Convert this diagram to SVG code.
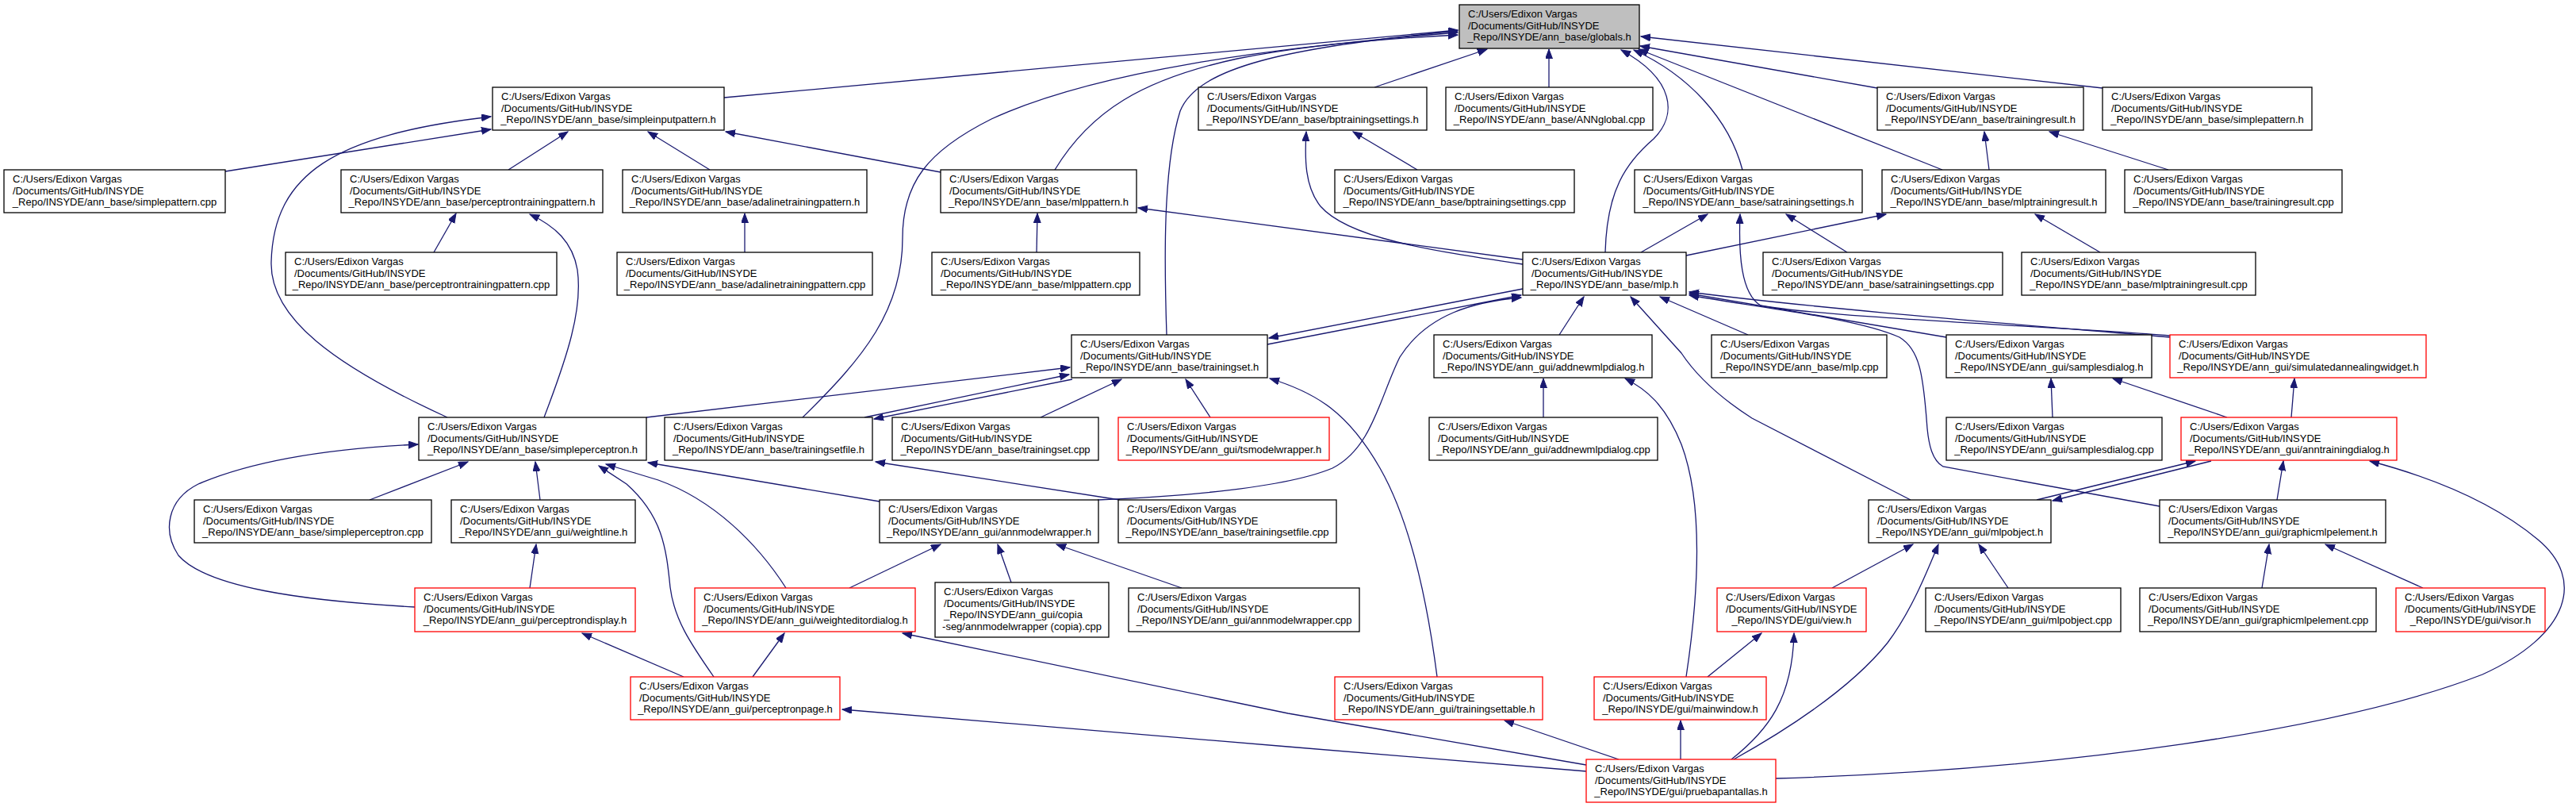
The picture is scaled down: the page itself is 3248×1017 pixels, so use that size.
<svg xmlns="http://www.w3.org/2000/svg" width="3248" height="1017" viewBox="0 0 3248 1017">
<style>
.n rect{fill:#ffffff;stroke:#000000;stroke-width:1.3}
.r rect{fill:#ffffff;stroke:#ff0000;stroke-width:1.3}
.g rect{fill:#bfbfbf;stroke:#000000;stroke-width:1.3}
text{font-family:"Liberation Sans",Arial,sans-serif;font-size:13px;fill:#000000}
.c{text-anchor:middle}
#edges path{fill:none;stroke:#191970;stroke-width:1.3;marker-end:url(#a)}
</style>
<defs>
<marker id="a" markerWidth="14" markerHeight="10" refX="12" refY="4.5" orient="auto" markerUnits="userSpaceOnUse"><path d="M0,0 L12,4.5 L0,9 z" fill="#191970" stroke="#191970" stroke-width="1"/></marker>
</defs>
<rect x="0" y="0" width="3248" height="1017" fill="#ffffff"/>
<g id="edges">
<path d="M913,123 L1838,38"/>
<path d="M1330,214 C1375,140 1440,100 1560,74 C1650,56 1760,48 1838,44"/>
<path d="M1012,526 C1090,450 1138,390 1138,300 C1138,230 1170,190 1250,150 C1380,90 1600,60 1838,41"/>
<path d="M1471,422 C1468,330 1466,210 1488,140 C1510,85 1620,60 1838,39"/>
<path d="M1733,110 L1875,62"/>
<path d="M1953,110 L1953,62"/>
<path d="M2024,318 C2026,240 2050,205 2085,175 C2115,145 2112,100 2044,63"/>
<path d="M2197,214 C2180,150 2130,95 2060,63"/>
<path d="M2449,214 L2066,62"/>
<path d="M2367,111 L2068,58"/>
<path d="M2651,111 L2069,46"/>
<path d="M284,216 L619,163"/>
<path d="M641,214 L716,166"/>
<path d="M895,214 L817,166"/>
<path d="M1186,217 L915,166"/>
<path d="M564,526 C420,460 340,400 342,330 C345,220 420,170 619,147"/>
<path d="M547,318 L575,269"/>
<path d="M686,526 C715,450 735,390 728,340 C722,305 700,285 668,270"/>
<path d="M939,318 L939,269"/>
<path d="M1307,318 L1308,269"/>
<path d="M1920,327 L1435,262"/>
<path d="M1920,333 C1800,315 1700,300 1665,260 C1645,235 1645,200 1647,166"/>
<path d="M1787,214 L1706,166"/>
<path d="M2329,318 L2252,270"/>
<path d="M2069,318 L2153,270"/>
<path d="M2126,322 L2378,270"/>
<path d="M2648,318 L2566,270"/>
<path d="M2734,214 L2584,166"/>
<path d="M2508,214 L2502,166"/>
<path d="M2736,423 C2600,412 2300,400 2220,385 C2195,370 2192,320 2194,270"/>
<path d="M2736,425 C2560,410 2300,390 2130,368"/>
<path d="M2454,425 L2130,370"/>
<path d="M2723,638 L2450,588 C2436,580 2432,560 2430,540 C2425,470 2420,440 2395,425 C2340,400 2200,385 2130,372"/>
<path d="M1598,434 L1918,372"/>
<path d="M1920,364 L1600,426"/>
<path d="M1384,630 C1500,625 1620,615 1680,590 C1730,565 1740,500 1765,450 C1800,395 1860,380 1918,375"/>
<path d="M1966,422 L1997,374"/>
<path d="M2204,422 L2093,374"/>
<path d="M2409,630 L2209,527 C2170,502 2140,475 2120,445 L2056,374"/>
<path d="M1312,526 L1414,478"/>
<path d="M1526,526 L1495,478"/>
<path d="M815,526 L1349,463"/>
<path d="M1090,526 L1348,472"/>
<path d="M1352,478 L1102,528"/>
<path d="M1812,853 C1800,760 1780,660 1740,590 C1700,520 1660,495 1601,477"/>
<path d="M1946,526 L1946,477"/>
<path d="M2126,853 C2140,760 2150,640 2120,560 C2100,510 2075,490 2049,477"/>
<path d="M2588,526 L2586,477"/>
<path d="M2808,526 L2664,477"/>
<path d="M2889,526 L2893,477"/>
<path d="M2568,630 L2768,581"/>
<path d="M2788,581 L2588,631"/>
<path d="M2871,630 L2879,581"/>
<path d="M2239,981 C2600,970 2950,920 3130,850 C3240,800 3260,730 3200,680 C3140,630 3060,600 2988,581"/>
<path d="M466,630 L590,582"/>
<path d="M681,630 L675,582"/>
<path d="M523,765 C380,757 260,740 225,700 C205,670 210,630 250,610 C320,580 420,565 527,560"/>
<path d="M991,741 C955,685 900,630 830,605 L764,585"/>
<path d="M900,853 C870,810 850,780 845,740 C840,690 835,650 790,610 L755,587"/>
<path d="M1109,632 L817,583"/>
<path d="M1412,630 L1104,582"/>
<path d="M668,741 L676,686"/>
<path d="M862,853 L734,798"/>
<path d="M949,853 L989,798"/>
<path d="M1071,741 L1186,686"/>
<path d="M1275,734 L1258,686"/>
<path d="M1490,741 L1332,686"/>
<path d="M2000,964 L1624,899 L1138,798"/>
<path d="M2000,972 L1624,941 L1062,894"/>
<path d="M2041,957 L1897,908"/>
<path d="M2119,957 L2119,908"/>
<path d="M2183,957 C2230,920 2260,880 2262,798"/>
<path d="M2186,957 C2270,910 2340,860 2380,810 C2410,770 2430,720 2444,686"/>
<path d="M2153,853 L2221,798"/>
<path d="M2310,741 L2412,686"/>
<path d="M2532,741 L2495,686"/>
<path d="M2852,741 L2861,686"/>
<path d="M3055,741 L2932,686"/>
</g>
<g id="globals_h" class="g"><rect x="1840" y="6" width="227" height="55"/><text x="1851" y="22">C:/Users/Edixon Vargas</text><text x="1851" y="36.5">/Documents/GitHub/INSYDE</text><text class="c" x="1953.5" y="51">_Repo/INSYDE/ann_base/globals.h</text></g>
<g id="simpleinputpattern_h" class="n"><rect x="621" y="110" width="292" height="54"/><text x="632" y="126">C:/Users/Edixon Vargas</text><text x="632" y="140.5">/Documents/GitHub/INSYDE</text><text class="c" x="767" y="155">_Repo/INSYDE/ann_base/simpleinputpattern.h</text></g>
<g id="bptrainingsettings_h" class="n"><rect x="1511" y="110" width="288" height="54"/><text x="1522" y="126">C:/Users/Edixon Vargas</text><text x="1522" y="140.5">/Documents/GitHub/INSYDE</text><text class="c" x="1655" y="155">_Repo/INSYDE/ann_base/bptrainingsettings.h</text></g>
<g id="ANNglobal_cpp" class="n"><rect x="1823" y="110" width="261" height="54"/><text x="1834" y="126">C:/Users/Edixon Vargas</text><text x="1834" y="140.5">/Documents/GitHub/INSYDE</text><text class="c" x="1953.5" y="155">_Repo/INSYDE/ann_base/ANNglobal.cpp</text></g>
<g id="trainingresult_h" class="n"><rect x="2367" y="110" width="260" height="54"/><text x="2378" y="126">C:/Users/Edixon Vargas</text><text x="2378" y="140.5">/Documents/GitHub/INSYDE</text><text class="c" x="2497" y="155">_Repo/INSYDE/ann_base/trainingresult.h</text></g>
<g id="simplepattern_h" class="n"><rect x="2651" y="110" width="264" height="54"/><text x="2662" y="126">C:/Users/Edixon Vargas</text><text x="2662" y="140.5">/Documents/GitHub/INSYDE</text><text class="c" x="2783" y="155">_Repo/INSYDE/ann_base/simplepattern.h</text></g>
<g id="simplepattern_cpp" class="n"><rect x="5" y="214" width="279" height="54"/><text x="16" y="230">C:/Users/Edixon Vargas</text><text x="16" y="244.5">/Documents/GitHub/INSYDE</text><text class="c" x="144.5" y="259">_Repo/INSYDE/ann_base/simplepattern.cpp</text></g>
<g id="perceptrontrainingpattern_h" class="n"><rect x="430" y="214" width="330" height="54"/><text x="441" y="230">C:/Users/Edixon Vargas</text><text x="441" y="244.5">/Documents/GitHub/INSYDE</text><text class="c" x="595" y="259">_Repo/INSYDE/ann_base/perceptrontrainingpattern.h</text></g>
<g id="adalinetrainingpattern_h" class="n"><rect x="785" y="214" width="308" height="54"/><text x="796" y="230">C:/Users/Edixon Vargas</text><text x="796" y="244.5">/Documents/GitHub/INSYDE</text><text class="c" x="939" y="259">_Repo/INSYDE/ann_base/adalinetrainingpattern.h</text></g>
<g id="mlppattern_h" class="n"><rect x="1186" y="214" width="247" height="54"/><text x="1197" y="230">C:/Users/Edixon Vargas</text><text x="1197" y="244.5">/Documents/GitHub/INSYDE</text><text class="c" x="1309.5" y="259">_Repo/INSYDE/ann_base/mlppattern.h</text></g>
<g id="bptrainingsettings_cpp" class="n"><rect x="1683" y="214" width="302" height="54"/><text x="1694" y="230">C:/Users/Edixon Vargas</text><text x="1694" y="244.5">/Documents/GitHub/INSYDE</text><text class="c" x="1834" y="259">_Repo/INSYDE/ann_base/bptrainingsettings.cpp</text></g>
<g id="satrainingsettings_h" class="n"><rect x="2061" y="214" width="287" height="54"/><text x="2072" y="230">C:/Users/Edixon Vargas</text><text x="2072" y="244.5">/Documents/GitHub/INSYDE</text><text class="c" x="2204.5" y="259">_Repo/INSYDE/ann_base/satrainingsettings.h</text></g>
<g id="mlptrainingresult_h" class="n"><rect x="2373" y="214" width="282" height="54"/><text x="2384" y="230">C:/Users/Edixon Vargas</text><text x="2384" y="244.5">/Documents/GitHub/INSYDE</text><text class="c" x="2514" y="259">_Repo/INSYDE/ann_base/mlptrainingresult.h</text></g>
<g id="trainingresult_cpp" class="n"><rect x="2679" y="214" width="274" height="54"/><text x="2690" y="230">C:/Users/Edixon Vargas</text><text x="2690" y="244.5">/Documents/GitHub/INSYDE</text><text class="c" x="2816" y="259">_Repo/INSYDE/ann_base/trainingresult.cpp</text></g>
<g id="perceptrontrainingpattern_cpp" class="n"><rect x="360" y="318" width="342" height="54"/><text x="371" y="334">C:/Users/Edixon Vargas</text><text x="371" y="348.5">/Documents/GitHub/INSYDE</text><text class="c" x="531" y="363">_Repo/INSYDE/ann_base/perceptrontrainingpattern.cpp</text></g>
<g id="adalinetrainingpattern_cpp" class="n"><rect x="778" y="318" width="322" height="54"/><text x="789" y="334">C:/Users/Edixon Vargas</text><text x="789" y="348.5">/Documents/GitHub/INSYDE</text><text class="c" x="939" y="363">_Repo/INSYDE/ann_base/adalinetrainingpattern.cpp</text></g>
<g id="mlppattern_cpp" class="n"><rect x="1175" y="318" width="262" height="54"/><text x="1186" y="334">C:/Users/Edixon Vargas</text><text x="1186" y="348.5">/Documents/GitHub/INSYDE</text><text class="c" x="1306" y="363">_Repo/INSYDE/ann_base/mlppattern.cpp</text></g>
<g id="mlp_h" class="n"><rect x="1920" y="318" width="206" height="54"/><text x="1931" y="334">C:/Users/Edixon Vargas</text><text x="1931" y="348.5">/Documents/GitHub/INSYDE</text><text class="c" x="2023" y="363">_Repo/INSYDE/ann_base/mlp.h</text></g>
<g id="satrainingsettings_cpp" class="n"><rect x="2223" y="318" width="302" height="54"/><text x="2234" y="334">C:/Users/Edixon Vargas</text><text x="2234" y="348.5">/Documents/GitHub/INSYDE</text><text class="c" x="2374" y="363">_Repo/INSYDE/ann_base/satrainingsettings.cpp</text></g>
<g id="mlptrainingresult_cpp" class="n"><rect x="2549" y="318" width="295" height="54"/><text x="2560" y="334">C:/Users/Edixon Vargas</text><text x="2560" y="348.5">/Documents/GitHub/INSYDE</text><text class="c" x="2696.5" y="363">_Repo/INSYDE/ann_base/mlptrainingresult.cpp</text></g>
<g id="trainingset_h" class="n"><rect x="1351" y="422" width="247" height="54"/><text x="1362" y="438">C:/Users/Edixon Vargas</text><text x="1362" y="452.5">/Documents/GitHub/INSYDE</text><text class="c" x="1474.5" y="467">_Repo/INSYDE/ann_base/trainingset.h</text></g>
<g id="addnewmlpdialog_h" class="n"><rect x="1808" y="422" width="275" height="54"/><text x="1819" y="438">C:/Users/Edixon Vargas</text><text x="1819" y="452.5">/Documents/GitHub/INSYDE</text><text class="c" x="1945.5" y="467">_Repo/INSYDE/ann_gui/addnewmlpdialog.h</text></g>
<g id="mlp_cpp" class="n"><rect x="2158" y="422" width="221" height="54"/><text x="2169" y="438">C:/Users/Edixon Vargas</text><text x="2169" y="452.5">/Documents/GitHub/INSYDE</text><text class="c" x="2268.5" y="467">_Repo/INSYDE/ann_base/mlp.cpp</text></g>
<g id="samplesdialog_h" class="n"><rect x="2454" y="422" width="259" height="54"/><text x="2465" y="438">C:/Users/Edixon Vargas</text><text x="2465" y="452.5">/Documents/GitHub/INSYDE</text><text class="c" x="2583.5" y="467">_Repo/INSYDE/ann_gui/samplesdialog.h</text></g>
<g id="simulatedannealingwidget_h" class="r"><rect x="2736" y="422" width="323" height="54"/><text x="2747" y="438">C:/Users/Edixon Vargas</text><text x="2747" y="452.5">/Documents/GitHub/INSYDE</text><text class="c" x="2897.5" y="467">_Repo/INSYDE/ann_gui/simulatedannealingwidget.h</text></g>
<g id="simpleperceptron_h" class="n"><rect x="528" y="526" width="287" height="54"/><text x="539" y="542">C:/Users/Edixon Vargas</text><text x="539" y="556.5">/Documents/GitHub/INSYDE</text><text class="c" x="671.5" y="571">_Repo/INSYDE/ann_base/simpleperceptron.h</text></g>
<g id="trainingsetfile_h" class="n"><rect x="838" y="526" width="262" height="54"/><text x="849" y="542">C:/Users/Edixon Vargas</text><text x="849" y="556.5">/Documents/GitHub/INSYDE</text><text class="c" x="969" y="571">_Repo/INSYDE/ann_base/trainingsetfile.h</text></g>
<g id="trainingset_cpp" class="n"><rect x="1125" y="526" width="260" height="54"/><text x="1136" y="542">C:/Users/Edixon Vargas</text><text x="1136" y="556.5">/Documents/GitHub/INSYDE</text><text class="c" x="1255" y="571">_Repo/INSYDE/ann_base/trainingset.cpp</text></g>
<g id="tsmodelwrapper_h" class="r"><rect x="1410" y="526" width="266" height="54"/><text x="1421" y="542">C:/Users/Edixon Vargas</text><text x="1421" y="556.5">/Documents/GitHub/INSYDE</text><text class="c" x="1543" y="571">_Repo/INSYDE/ann_gui/tsmodelwrapper.h</text></g>
<g id="addnewmlpdialog_cpp" class="n"><rect x="1802" y="526" width="288" height="54"/><text x="1813" y="542">C:/Users/Edixon Vargas</text><text x="1813" y="556.5">/Documents/GitHub/INSYDE</text><text class="c" x="1946" y="571">_Repo/INSYDE/ann_gui/addnewmlpdialog.cpp</text></g>
<g id="samplesdialog_cpp" class="n"><rect x="2454" y="526" width="272" height="54"/><text x="2465" y="542">C:/Users/Edixon Vargas</text><text x="2465" y="556.5">/Documents/GitHub/INSYDE</text><text class="c" x="2590" y="571">_Repo/INSYDE/ann_gui/samplesdialog.cpp</text></g>
<g id="anntrainingdialog_h" class="r"><rect x="2750" y="526" width="272" height="54"/><text x="2761" y="542">C:/Users/Edixon Vargas</text><text x="2761" y="556.5">/Documents/GitHub/INSYDE</text><text class="c" x="2886" y="571">_Repo/INSYDE/ann_gui/anntrainingdialog.h</text></g>
<g id="simpleperceptron_cpp" class="n"><rect x="245" y="630" width="299" height="54"/><text x="256" y="646">C:/Users/Edixon Vargas</text><text x="256" y="660.5">/Documents/GitHub/INSYDE</text><text class="c" x="394.5" y="675">_Repo/INSYDE/ann_base/simpleperceptron.cpp</text></g>
<g id="weightline_h" class="n"><rect x="569" y="630" width="232" height="54"/><text x="580" y="646">C:/Users/Edixon Vargas</text><text x="580" y="660.5">/Documents/GitHub/INSYDE</text><text class="c" x="685" y="675">_Repo/INSYDE/ann_gui/weightline.h</text></g>
<g id="annmodelwrapper_h" class="n"><rect x="1109" y="630" width="276" height="54"/><text x="1120" y="646">C:/Users/Edixon Vargas</text><text x="1120" y="660.5">/Documents/GitHub/INSYDE</text><text class="c" x="1247" y="675">_Repo/INSYDE/ann_gui/annmodelwrapper.h</text></g>
<g id="trainingsetfile_cpp" class="n"><rect x="1410" y="630" width="275" height="54"/><text x="1421" y="646">C:/Users/Edixon Vargas</text><text x="1421" y="660.5">/Documents/GitHub/INSYDE</text><text class="c" x="1547.5" y="675">_Repo/INSYDE/ann_base/trainingsetfile.cpp</text></g>
<g id="mlpobject_h" class="n"><rect x="2356" y="630" width="230" height="54"/><text x="2367" y="646">C:/Users/Edixon Vargas</text><text x="2367" y="660.5">/Documents/GitHub/INSYDE</text><text class="c" x="2471" y="675">_Repo/INSYDE/ann_gui/mlpobject.h</text></g>
<g id="graphicmlpelement_h" class="n"><rect x="2723" y="630" width="285" height="54"/><text x="2734" y="646">C:/Users/Edixon Vargas</text><text x="2734" y="660.5">/Documents/GitHub/INSYDE</text><text class="c" x="2865.5" y="675">_Repo/INSYDE/ann_gui/graphicmlpelement.h</text></g>
<g id="perceptrondisplay_h" class="r"><rect x="523" y="741" width="278" height="55"/><text x="534" y="757">C:/Users/Edixon Vargas</text><text x="534" y="771.5">/Documents/GitHub/INSYDE</text><text class="c" x="662" y="786">_Repo/INSYDE/ann_gui/perceptrondisplay.h</text></g>
<g id="weighteditordialog_h" class="r"><rect x="876" y="741" width="278" height="55"/><text x="887" y="757">C:/Users/Edixon Vargas</text><text x="887" y="771.5">/Documents/GitHub/INSYDE</text><text class="c" x="1015" y="786">_Repo/INSYDE/ann_gui/weighteditordialog.h</text></g>
<g id="annmodelwrapper_copia_cpp" class="n"><rect x="1179" y="734" width="219" height="69"/><text x="1190" y="750">C:/Users/Edixon Vargas</text><text x="1190" y="764.5">/Documents/GitHub/INSYDE</text><text x="1190" y="779">_Repo/INSYDE/ann_gui/copia</text><text class="c" x="1288.5" y="793.5">-seg/annmodelwrapper (copia).cpp</text></g>
<g id="annmodelwrapper_cpp" class="n"><rect x="1423" y="741" width="291" height="55"/><text x="1434" y="757">C:/Users/Edixon Vargas</text><text x="1434" y="771.5">/Documents/GitHub/INSYDE</text><text class="c" x="1568.5" y="786">_Repo/INSYDE/ann_gui/annmodelwrapper.cpp</text></g>
<g id="view_h" class="r"><rect x="2165" y="741" width="188" height="55"/><text x="2176" y="757">C:/Users/Edixon Vargas</text><text x="2176" y="771.5">/Documents/GitHub/INSYDE</text><text class="c" x="2259" y="786">_Repo/INSYDE/gui/view.h</text></g>
<g id="mlpobject_cpp" class="n"><rect x="2428" y="741" width="246" height="55"/><text x="2439" y="757">C:/Users/Edixon Vargas</text><text x="2439" y="771.5">/Documents/GitHub/INSYDE</text><text class="c" x="2551" y="786">_Repo/INSYDE/ann_gui/mlpobject.cpp</text></g>
<g id="graphicmlpelement_cpp" class="n"><rect x="2698" y="741" width="298" height="55"/><text x="2709" y="757">C:/Users/Edixon Vargas</text><text x="2709" y="771.5">/Documents/GitHub/INSYDE</text><text class="c" x="2847" y="786">_Repo/INSYDE/ann_gui/graphicmlpelement.cpp</text></g>
<g id="visor_h" class="r"><rect x="3021" y="741" width="188" height="55"/><text x="3032" y="757">C:/Users/Edixon Vargas</text><text x="3032" y="771.5">/Documents/GitHub/INSYDE</text><text class="c" x="3115" y="786">_Repo/INSYDE/gui/visor.h</text></g>
<g id="perceptronpage_h" class="r"><rect x="795" y="853" width="264" height="54"/><text x="806" y="869">C:/Users/Edixon Vargas</text><text x="806" y="883.5">/Documents/GitHub/INSYDE</text><text class="c" x="927" y="898">_Repo/INSYDE/ann_gui/perceptronpage.h</text></g>
<g id="trainingsettable_h" class="r"><rect x="1683" y="853" width="262" height="54"/><text x="1694" y="869">C:/Users/Edixon Vargas</text><text x="1694" y="883.5">/Documents/GitHub/INSYDE</text><text class="c" x="1814" y="898">_Repo/INSYDE/ann_gui/trainingsettable.h</text></g>
<g id="mainwindow_h" class="r"><rect x="2010" y="853" width="217" height="54"/><text x="2021" y="869">C:/Users/Edixon Vargas</text><text x="2021" y="883.5">/Documents/GitHub/INSYDE</text><text class="c" x="2118.5" y="898">_Repo/INSYDE/gui/mainwindow.h</text></g>
<g id="pruebapantallas_h" class="r"><rect x="2000" y="957" width="239" height="54"/><text x="2011" y="973">C:/Users/Edixon Vargas</text><text x="2011" y="987.5">/Documents/GitHub/INSYDE</text><text class="c" x="2119.5" y="1002">_Repo/INSYDE/gui/pruebapantallas.h</text></g>
</svg>
